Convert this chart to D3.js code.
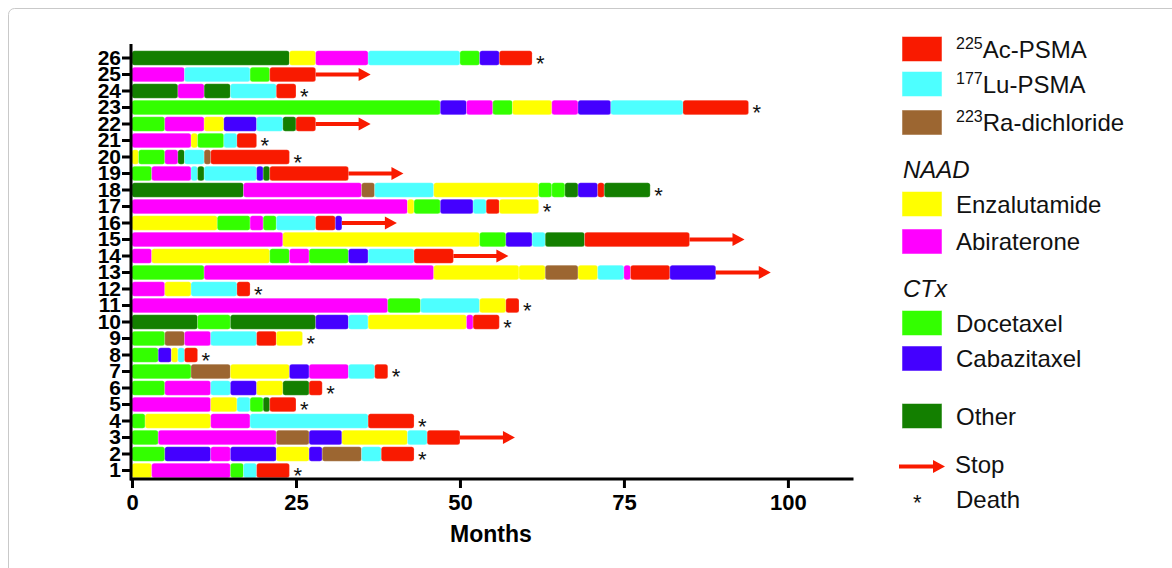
<!DOCTYPE html>
<html>
<head>
<meta charset="utf-8">
<script src="https://cdn.jsdelivr.net/npm/d3@7"></script>
<style>
  body { margin: 0; background: #fff; }
  svg { display: block; font-family: "Liberation Sans", Arial, sans-serif; }
</style>
</head>
<body>
<svg id="chart" width="1172" height="568"></svg>
<script>
// treatments
const drugs = ['ac', 'lu', 'ra', 'enz', 'abi', 'doc', 'cab', 'oth']
const drugColors = ['#f91a00', '#4dffff', '#9c6631', '#ffff00', '#ff00ff', '#33ff00', '#4400ff', '#137f00']
const drugSup = ['225', '177', '223', '', '', '', '', '']
const drugNames = ['Ac-PSMA', 'Lu-PSMA', 'Ra-dichloride', 'Enzalutamide', 'Abiraterone', 'Docetaxel', 'Cabazitaxel', 'Other']

// each patient: [treatment, month the treatment ends], in order
const p1 = [['enz', 3], ['abi', 15], ['doc', 17], ['lu', 19], ['ac', 24]]
const p2 = [['doc', 5], ['cab', 12], ['abi', 15], ['cab', 22], ['enz', 27], ['cab', 29], ['ra', 35], ['lu', 38], ['ac', 43]]
const p3 = [['doc', 4], ['abi', 22], ['ra', 27], ['cab', 32], ['enz', 42], ['lu', 45], ['ac', 50]]
const p4 = [['doc', 2], ['enz', 12], ['abi', 18], ['lu', 36], ['ac', 43]]
const p5 = [['abi', 12], ['enz', 16], ['lu', 18], ['doc', 20], ['oth', 21], ['ac', 25]]
const p6 = [['doc', 5], ['abi', 12], ['lu', 15], ['cab', 19], ['enz', 23], ['oth', 27], ['ac', 29]]
const p7 = [['doc', 9], ['ra', 15], ['enz', 24], ['cab', 27], ['abi', 33], ['lu', 37], ['ac', 39]]
const p8 = [['doc', 4], ['cab', 6], ['enz', 7], ['lu', 8], ['ac', 10]]
const p9 = [['doc', 5], ['ra', 8], ['abi', 12], ['lu', 19], ['ac', 22], ['enz', 26]]
const p10 = [['oth', 10], ['doc', 15], ['oth', 28], ['cab', 33], ['lu', 36], ['enz', 51], ['abi', 52], ['ac', 56]]
const p11 = [['abi', 39], ['doc', 44], ['lu', 53], ['enz', 57], ['ac', 59]]
const p12 = [['abi', 5], ['enz', 9], ['lu', 16], ['ac', 18]]
const p13 = [['doc', 11], ['abi', 46], ['enz', 59], ['enz', 63], ['ra', 68], ['enz', 71], ['lu', 75], ['abi', 76], ['ac', 82], ['cab', 89]]
const p14 = [['abi', 3], ['enz', 21], ['doc', 24], ['abi', 27], ['doc', 33], ['cab', 36], ['lu', 43], ['ac', 49]]
const p15 = [['abi', 23], ['enz', 53], ['doc', 57], ['cab', 61], ['lu', 63], ['oth', 69], ['ac', 85]]
const p16 = [['enz', 13], ['doc', 18], ['abi', 20], ['doc', 22], ['lu', 28], ['ac', 31], ['cab', 32]]
const p17 = [['abi', 42], ['enz', 43], ['doc', 47], ['cab', 52], ['lu', 54], ['ac', 56], ['enz', 62]]
const p18 = [['oth', 17], ['abi', 35], ['ra', 37], ['lu', 46], ['enz', 62], ['doc', 64], ['doc', 66], ['oth', 68], ['cab', 71], ['ac', 72], ['oth', 79]]
const p19 = [['doc', 3], ['abi', 9], ['lu', 10], ['oth', 11], ['lu', 19], ['cab', 20], ['oth', 21], ['ac', 33]]
const p20 = [['enz', 1], ['doc', 5], ['abi', 7], ['oth', 8], ['lu', 11], ['ra', 12], ['ac', 24]]
const p21 = [['abi', 9], ['enz', 10], ['doc', 14], ['lu', 16], ['ac', 19]]
const p22 = [['doc', 5], ['abi', 11], ['enz', 14], ['cab', 19], ['lu', 23], ['oth', 25], ['ac', 28]]
const p23 = [['doc', 47], ['cab', 51], ['abi', 55], ['doc', 58], ['enz', 64], ['abi', 68], ['cab', 73], ['lu', 84], ['ac', 94]]
const p24 = [['oth', 7], ['abi', 11], ['oth', 15], ['lu', 22], ['ac', 25]]
const p25 = [['abi', 8], ['lu', 18], ['doc', 21], ['ac', 28]]
const p26 = [['oth', 24], ['enz', 28], ['abi', 36], ['lu', 50], ['doc', 53], ['cab', 56], ['ac', 61]]

const patients = [p1, p2, p3, p4, p5, p6, p7, p8, p9, p10, p11, p12, p13,
  p14, p15, p16, p17, p18, p19, p20, p21, p22, p23, p24, p25, p26]
// D = death, S = stop
const outcome = ['D', 'D', 'S', 'D', 'D', 'D', 'D', 'D', 'D', 'D', 'D', 'D', 'S',
  'S', 'S', 'S', 'D', 'D', 'S', 'D', 'D', 'S', 'D', 'D', 'S', 'D']
const xTicks = [0, 25, 50, 75, 100]

const red = drugColors[0]
const color = d3.scaleOrdinal().domain(drugs).range(drugColors)
const svg = d3.select('#chart')

svg.append('rect')
  .attr('x', 8.5).attr('y', 8.5)
  .attr('width', 1200).attr('height', 600)
  .attr('rx', 6)
  .attr('fill', 'none')
  .attr('stroke', '#c9c9c9')

const x = d3.scaleLinear().domain([0, 110]).range([132, 853.5])
const ids = patients.map((p, i) => i + 1)
const y = d3.scaleBand()
  .domain(ids.slice().reverse())
  .range([49.75, 478.75])
  .paddingInner(0.12)
  .paddingOuter(0.06)

// build segments
let segs = []
patients.forEach(function (p, i) {
  let start = 0
  p.forEach(function (s) {
    segs.push({ id: i + 1, drug: s[0], start: start, end: s[1] })
    start = s[1]
  })
})

svg.append('g').attr('class', 'bars')
  .selectAll('rect')
  .data(segs)
  .enter()
  .append('rect')
    .attr('x', d => x(d.start))
    .attr('y', d => y(d.id))
    .attr('width', d => x(d.end) - x(d.start))
    .attr('height', y.bandwidth())
    .attr('rx', 2.5)
    .attr('fill', d => color(d.drug))
    .attr('stroke', '#fff')
    .attr('stroke-opacity', 0.35)
    .attr('stroke-width', 0.6)

// outcome marks
let ends = patients.map(function (p, i) {
  return { id: i + 1, end: p[p.length - 1][1], kind: outcome[i] }
})

function drawArrow (g, x0, cy, len) {
  g.append('line')
    .attr('x1', x0).attr('x2', x0 + len - 10)
    .attr('y1', cy).attr('y2', cy)
    .attr('stroke', red)
    .attr('stroke-width', 4)
  g.append('path')
    .attr('d', 'M' + (x0 + len - 12) + ',' + (cy - 6.5) + 'L' + (x0 + len) + ',' + cy + 'L' + (x0 + len - 12) + ',' + (cy + 6.5) + 'Z')
    .attr('fill', red)
}

let marks = svg.append('g').attr('class', 'marks')
ends.forEach(function (e) {
  let cy = y(e.id) + y.bandwidth() / 2
  if (e.kind === 'S') {
    drawArrow(marks, x(e.end), cy, 55)
  } else {
    marks.append('text')
      .attr('x', x(e.end) + 4)
      .attr('y', cy + 12.5)
      .attr('font-size', 22)
      .attr('fill', '#111')
      .text('*')
  }
})

// axes
let xAxis = svg.append('g')
  .attr('transform', 'translate(0,479)')
  .call(d3.axisBottom(x).tickValues(xTicks).tickSize(9).tickPadding(6))
xAxis.select('.domain').attr('stroke-width', 3).attr('d', 'M130,0H853.5')
xAxis.selectAll('.tick line').attr('stroke-width', 3)
xAxis.selectAll('.tick text')
  .attr('font-size', 22)
  .attr('font-weight', 'bold')
  .attr('fill', '#000')
  .attr('font-family', '"Liberation Sans", Arial, sans-serif')

let yAxis = svg.append('g')
  .attr('transform', 'translate(131,0)')
  .call(d3.axisLeft(y).tickSize(9).tickPadding(1))
yAxis.select('.domain').attr('stroke-width', 3).attr('d', 'M0,44V480.5')
yAxis.selectAll('.tick line').attr('stroke-width', 3)
yAxis.selectAll('.tick text')
  .attr('font-size', 21)
  .attr('font-weight', 'bold')
  .attr('fill', '#000')
  .attr('font-family', '"Liberation Sans", Arial, sans-serif')

svg.append('text')
  .attr('x', 491).attr('y', 542)
  .attr('text-anchor', 'middle')
  .attr('font-size', 23)
  .attr('font-weight', 'bold')
  .text('Months')

// legend
let legend = svg.append('g').attr('class', 'legend')
let legendY = [49, 84, 122.5, 204, 241.5, 323, 358.5, 416]
drugs.forEach(function (d, i) {
  legend.append('rect')
    .attr('x', 902).attr('y', legendY[i] - 12.5)
    .attr('width', 40).attr('height', 25)
    .attr('fill', drugColors[i])
    .attr('stroke', '#fff').attr('stroke-opacity', 0.5)
  let t = legend.append('text')
    .attr('x', 956).attr('y', legendY[i] + 8.5)
    .attr('font-size', 24)
    .attr('fill', '#111')
  if (drugSup[i]) {
    t.append('tspan').attr('font-size', 16).attr('dy', -9).text(drugSup[i])
    t.append('tspan').attr('dy', 9).text(drugNames[i])
  } else {
    t.text(drugNames[i])
  }
})
legend.append('text').attr('x', 903).attr('y', 178)
  .attr('font-size', 24).attr('font-style', 'italic').attr('fill', '#111').text('NAAD')
legend.append('text').attr('x', 903).attr('y', 297)
  .attr('font-size', 24).attr('font-style', 'italic').attr('fill', '#111').text('CTx')

drawArrow(legend, 899, 466.5, 46)
legend.append('text').attr('x', 955).attr('y', 473)
  .attr('font-size', 24).attr('fill', '#111').text('Stop')
legend.append('text').attr('x', 913).attr('y', 510)
  .attr('font-size', 22).attr('fill', '#111').text('*')
legend.append('text').attr('x', 956).attr('y', 508)
  .attr('font-size', 24).attr('fill', '#111').text('Death')
</script>
</body>
</html>
